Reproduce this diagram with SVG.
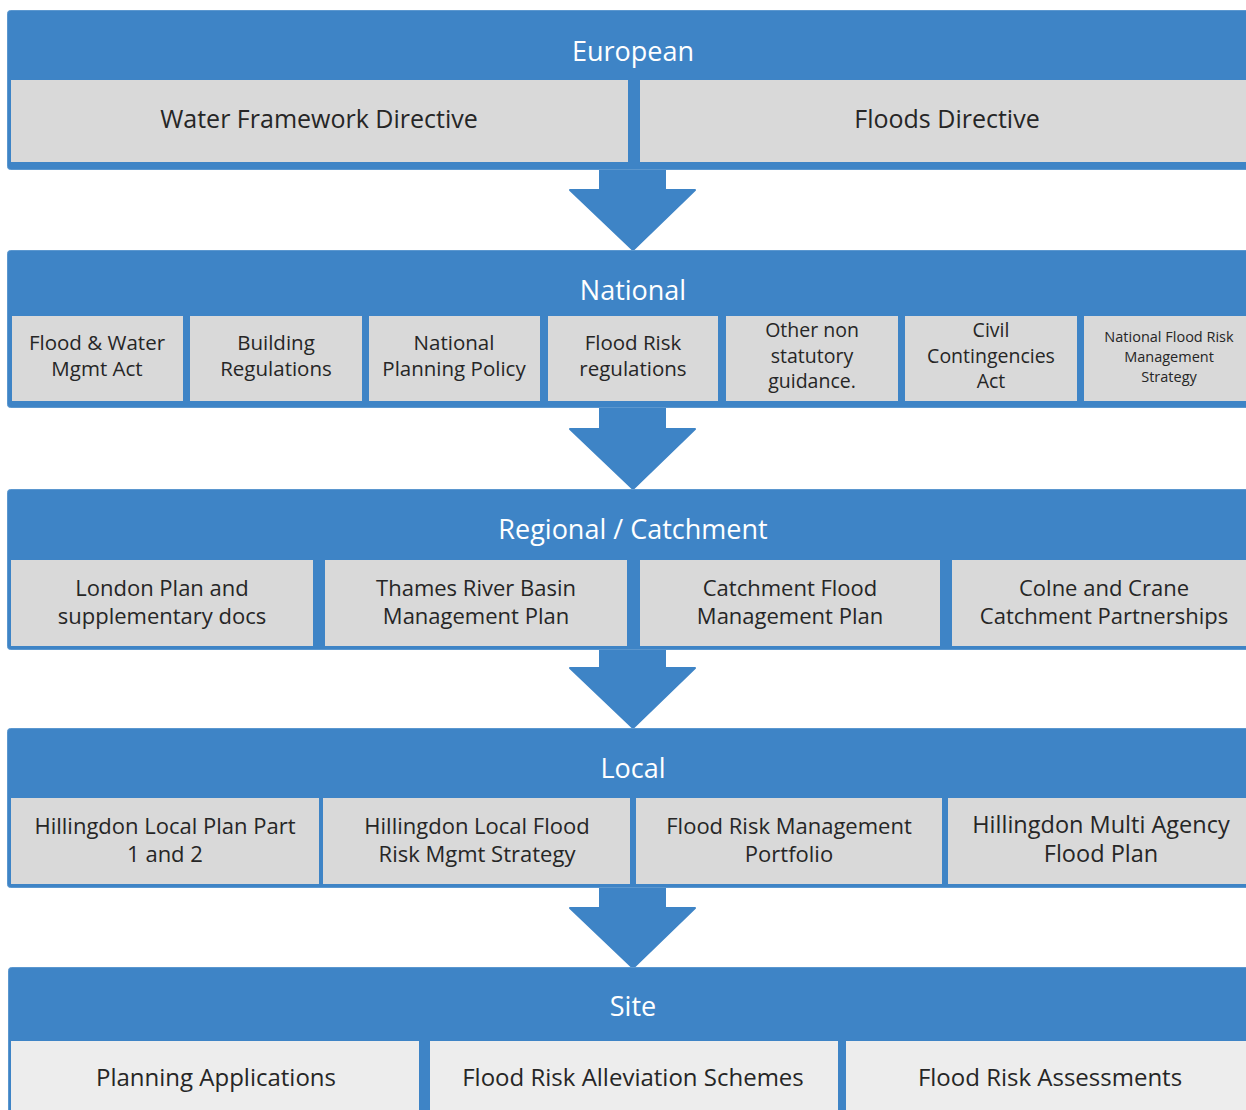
<svg xmlns="http://www.w3.org/2000/svg" width="1246" height="1110" viewBox="0 0 1246 1110">
<style>
.band{fill:#3E84C6;stroke:#5B97CF;stroke-width:1}
.box{fill:#D9D9D9}
.boxl{fill:#EDEDED}
.arrow{fill:#3E84C6;stroke:#3E84C6;stroke-width:2;stroke-linejoin:round}
text{font-family:"Open Sans","DejaVu Sans",sans-serif;text-anchor:middle;dominant-baseline:central}
.hd{fill:#FFFFFF;font-size:27px}
.t25{fill:#262626;font-size:25px}
.t21{fill:#262626;font-size:20.5px}
.t20{fill:#262626;font-size:19.5px}
.t15{fill:#262626;font-size:14.5px}
.t22{fill:#262626;font-size:22px}
.t23{fill:#262626;font-size:23.5px}
.t24{fill:#262626;font-size:24px}
</style>
<rect width="1246" height="1110" fill="#FFFFFF"/>

<g id="connectors">
<path class="arrow" d="M600,160 L665,160 L665,190 L695,190 L633,250 L570,190 L600,190 Z"/>
<path class="arrow" d="M600,400 L665,400 L665,429 L695,429 L633,489 L570,429 L600,429 Z"/>
<path class="arrow" d="M600,640 L665,640 L665,668 L695,668 L633,728 L570,668 L600,668 Z"/>
<path class="arrow" d="M600,880 L665,880 L665,908 L695,908 L633,968 L570,908 L600,908 Z"/>
</g>

<g id="european">
<rect class="band" x="7.5" y="10.5" width="1250" height="159" rx="3"/>
<text class="hd" x="633" y="50">European</text>
<g id="wfd"><rect class="box" x="11" y="80" width="617" height="82"/><text class="t25" x="319" y="118">Water Framework Directive</text></g>
<g id="fd"><rect class="box" x="640" y="80" width="620" height="82"/><text class="t25" x="947" y="118">Floods Directive</text></g>
</g>

<g id="national">
<rect class="band" x="7.5" y="250.5" width="1250" height="157" rx="3"/>
<text class="hd" x="633" y="289">National</text>
<g id="n1"><rect class="box" x="12" y="316" width="171" height="85"/><text class="t21" x="97" y="342">Flood &amp; Water</text><text class="t21" x="97" y="368">Mgmt Act</text></g>
<g id="n2"><rect class="box" x="190" y="316" width="172" height="85"/><text class="t21" x="276" y="342">Building</text><text class="t21" x="276" y="368">Regulations</text></g>
<g id="n3"><rect class="box" x="369" y="316" width="171" height="85"/><text class="t21" x="454" y="342">National</text><text class="t21" x="454" y="368">Planning Policy</text></g>
<g id="n4"><rect class="box" x="548" y="316" width="170" height="85"/><text class="t21" x="633" y="342">Flood Risk</text><text class="t21" x="633" y="368">regulations</text></g>
<g id="n5"><rect class="box" x="726" y="316" width="172" height="85"/><text class="t20" x="812" y="329">Other non</text><text class="t20" x="812" y="355">statutory</text><text class="t20" x="812" y="380">guidance.</text></g>
<g id="n6"><rect class="box" x="905" y="316" width="172" height="85"/><text class="t20" x="991" y="329">Civil</text><text class="t20" x="991" y="355">Contingencies</text><text class="t20" x="991" y="380">Act</text></g>
<g id="n7"><rect class="box" x="1084" y="316" width="175" height="85"/><text class="t15" x="1169" y="336">National Flood Risk</text><text class="t15" x="1169" y="356">Management</text><text class="t15" x="1169" y="376">Strategy</text></g>
</g>

<g id="regional">
<rect class="band" x="7.5" y="489.5" width="1250" height="160" rx="3"/>
<text class="hd" x="633" y="528">Regional / Catchment</text>
<g id="r1"><rect class="box" x="11" y="560" width="302" height="86"/><text class="t22" x="162" y="587">London Plan and</text><text class="t22" x="162" y="615">supplementary docs</text></g>
<g id="r2"><rect class="box" x="325" y="560" width="302" height="86"/><text class="t22" x="476" y="587">Thames River Basin</text><text class="t22" x="476" y="615">Management Plan</text></g>
<g id="r3"><rect class="box" x="640" y="560" width="300" height="86"/><text class="t22" x="790" y="587">Catchment Flood</text><text class="t22" x="790" y="615">Management Plan</text></g>
<g id="r4"><rect class="box" x="952" y="560" width="306" height="86"/><text class="t22" x="1104" y="587">Colne and Crane</text><text class="t22" x="1104" y="615">Catchment Partnerships</text></g>
</g>

<g id="local">
<rect class="band" x="7.5" y="728.5" width="1250" height="159" rx="3"/>
<text class="hd" x="633" y="767">Local</text>
<g id="l1"><rect class="box" x="11" y="798" width="308" height="86"/><text class="t22" x="165" y="825">Hillingdon Local Plan Part</text><text class="t22" x="165" y="853">1 and 2</text></g>
<g id="l2"><rect class="box" x="323" y="798" width="307" height="86"/><text class="t22" x="477" y="825">Hillingdon Local Flood</text><text class="t22" x="477" y="853">Risk Mgmt Strategy</text></g>
<g id="l3"><rect class="box" x="636" y="798" width="306" height="86"/><text class="t22" x="789" y="825">Flood Risk Management</text><text class="t22" x="789" y="853">Portfolio</text></g>
<g id="l4"><rect class="box" x="948" y="798" width="310" height="86"/><text class="t23" x="1101" y="824">Hillingdon Multi Agency</text><text class="t23" x="1101" y="853">Flood Plan</text></g>
</g>

<g id="site">
<rect class="band" x="8.5" y="967.5" width="1250" height="160" rx="3"/>
<text class="hd" x="633" y="1005">Site</text>
<g id="s1"><rect class="boxl" x="11" y="1041" width="408" height="80"/><text class="t24" x="216" y="1076">Planning Applications</text></g>
<g id="s2"><rect class="boxl" x="430" y="1041" width="408" height="80"/><text class="t24" x="633" y="1076">Flood Risk Alleviation Schemes</text></g>
<g id="s3"><rect class="boxl" x="846" y="1041" width="412" height="80"/><text class="t24" x="1050" y="1076">Flood Risk Assessments</text></g>
</g>
</svg>
